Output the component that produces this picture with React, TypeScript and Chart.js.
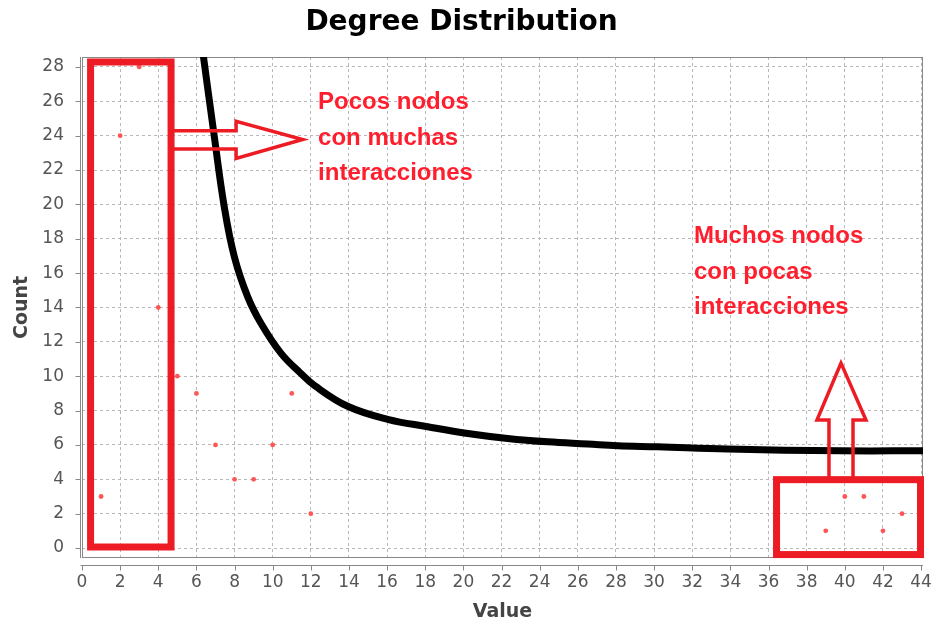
import React, { useEffect, useRef } from "react";
import { Chart, registerables } from "chart.js";

Chart.register(...registerables);

// ---- data ----
const degreeValues = [1, 2, 3, 4, 5, 6, 7, 8, 9, 10, 11, 12, 39, 40, 41, 42, 43];
const degreeCounts = [3, 24, 28, 14, 10, 9, 6, 4, 4, 6, 9, 2, 1, 3, 3, 1, 2];

const fitX = [6.32, 6.94, 7.46, 7.99, 8.69, 9.39, 10.44, 11.48, 12.2, 13.93, 16.03, 18.13, 20.23, 22.32, 24.42, 26.52, 28.09, 30.19, 33.86, 39.8, 44.1];
const fitY = [29.0, 23.93, 19.86, 16.95, 14.62, 13.07, 11.33, 10.16, 9.45, 8.25, 7.49, 7.06, 6.67, 6.38, 6.18, 6.05, 5.95, 5.89, 5.76, 5.66, 5.66];

const xTicks = [0, 2, 4, 6, 8, 10, 12, 14, 16, 18, 20, 22, 24, 26, 28, 30, 32, 34, 36, 38, 40, 42, 44];
const yTicks = [0, 2, 4, 6, 8, 10, 12, 14, 16, 18, 20, 22, 24, 26, 28];

const chartTitle = "Degree Distribution";
const xTitle = "Value";
const yTitle = "Count";

// annotations (data units)
const highlightBoxes = [
  { x0: 0.45, x1: 4.67, y0: 0.06, y1: 28.29 },
  { x0: 36.42, x1: 43.97, y0: -0.38, y1: 3.98 },
];
const arrowRight = [[4.67, 24.29], [8.08, 24.29], [8.08, 24.84], [11.57, 23.78], [8.08, 22.67], [8.08, 23.23], [4.67, 23.23]];
const arrowUp = [[39.17, 3.98], [39.17, 7.45], [38.54, 7.45], [39.8, 10.76], [41.11, 7.45], [40.43, 7.45], [40.43, 3.98]];
const noteLines1 = ["Pocos nodos", "con muchas", "interacciones"];
const noteX1 = 12.38;
const noteY1 = [25.58, 23.47, 21.41];
const noteLines2 = ["Muchos nodos", "con pocas", "interacciones"];
const noteX2 = 32.09;
const noteY2 = [17.73, 15.68, 13.61];

const RED = "#ed1c24";
const TEXT_RED = "#ff1e2d";

const framePlugin = {
  id: "frame",
  beforeDatasetsDraw(chart: any) {
    const { ctx, chartArea: a, scales } = chart;
    ctx.save();
    ctx.strokeStyle = "#888888";
    ctx.lineWidth = 1;
    ctx.setLineDash([]);
    ctx.strokeRect(Math.round(a.left) + 0.5, Math.round(a.top) + 0.5, Math.round(a.right - a.left) - 1, Math.round(a.bottom - a.top) - 1);
    // y axis line (offset)
    const ax = Math.round(a.left) - 2 + 0.5;
    ctx.beginPath();
    ctx.moveTo(ax, a.top);
    ctx.lineTo(ax, a.bottom);
    yTicks.forEach((v) => {
      const p = Math.round(scales.y.getPixelForValue(v)) + 0.5;
      ctx.moveTo(ax, p);
      ctx.lineTo(ax - 5, p);
    });
    // x axis line (offset)
    const ay = Math.round(a.bottom) + 7 + 0.5;
    ctx.moveTo(ax, ay);
    ctx.lineTo(a.right, ay);
    xTicks.forEach((v) => {
      const p = Math.round(scales.x.getPixelForValue(v)) + 0.5;
      ctx.moveTo(p, ay);
      ctx.lineTo(p, ay + 5);
    });
    ctx.stroke();
    ctx.restore();
  },
  afterDatasetsDraw(chart: any) {
    const { ctx, scales } = chart;
    const px = (v: number) => scales.x.getPixelForValue(v);
    const py = (v: number) => scales.y.getPixelForValue(v);
    ctx.save();
    ctx.setLineDash([]);
    ctx.strokeStyle = RED;
    ctx.lineJoin = "miter";
    ctx.lineWidth = 7;
    highlightBoxes.forEach((b) => {
      ctx.strokeRect(px(b.x0), py(b.y1), px(b.x1) - px(b.x0), py(b.y0) - py(b.y1));
    });
    ctx.lineWidth = 3.5;
    [arrowRight, arrowUp].forEach((pts) => {
      ctx.beginPath();
      pts.forEach(([x, y], i) => {
        if (i === 0) ctx.moveTo(px(x), py(y));
        else ctx.lineTo(px(x), py(y));
      });
      ctx.stroke();
    });
    ctx.fillStyle = TEXT_RED;
    ctx.font = "bold 24px 'Liberation Sans', Arial, sans-serif";
    ctx.textAlign = "left";
    ctx.textBaseline = "alphabetic";
    noteLines1.forEach((t, i) => ctx.fillText(t, px(noteX1), py(noteY1[i])));
    noteLines2.forEach((t, i) => ctx.fillText(t, px(noteX2), py(noteY2[i])));
    ctx.restore();
  },
};

export default function App() {
  const ref = useRef<HTMLCanvasElement | null>(null);
  useEffect(() => {
    if (!ref.current) return;
    const chart = new Chart(ref.current, {
      type: "scatter",
      data: {
        datasets: [
          {
            label: "fit",
            type: "line",
            data: fitX.map((x, i) => ({ x, y: fitY[i] })),
            borderColor: "#000000",
            borderWidth: 7,
            pointRadius: 0,
            fill: false,
            tension: 0.4,
            clip: 0,
            order: 2,
          } as any,
          {
            label: "degree",
            data: degreeValues.map((x, i) => ({ x, y: degreeCounts[i] })),
            backgroundColor: "#ff5555",
            borderWidth: 0,
            pointRadius: 2.4,
            order: 1,
          },
        ],
      },
      options: {
        responsive: false,
        animation: false,
        layout: { padding: { left: 0, right: 10, top: 0, bottom: 0 } },
        plugins: {
          legend: { display: false },
          tooltip: { enabled: false },
          title: {
            display: true,
            text: chartTitle,
            color: "#000000",
            font: { family: "'DejaVu Sans', sans-serif", size: 28, weight: "bold" },
            padding: { top: 6, bottom: 17.4 },
          },
        },
        scales: {
          x: {
            type: "linear",
            min: 0,
            max: 44.1,
            afterBuildTicks: (s: any) => {
              s.ticks = xTicks.map((v) => ({ value: v }));
            },
            afterFit: (s: any) => {
              s.height = 65;
              s.paddingLeft = 0;
              s.paddingRight = 0;
            },
            ticks: {
              color: "#555555",
              font: { family: "'DejaVu Sans', sans-serif", size: 17 },
              padding: 14,
              maxRotation: 0,
              autoSkip: false,
            },
            grid: {
              color: "#b8b8b8",
              drawTicks: false,
            },
            border: { display: false, dash: [3, 3] },
            title: {
              display: true,
              text: xTitle,
              color: "#444444",
              font: { family: "'DejaVu Sans', sans-serif", size: 19, weight: "bold" },
              padding: { top: 0, bottom: 0 },
            },
          },
          y: {
            type: "linear",
            min: -0.58,
            max: 28.58,
            afterBuildTicks: (s: any) => {
              s.ticks = yTicks.map((v) => ({ value: v }));
            },
            afterFit: (s: any) => {
              s.width = 82;
              s.paddingTop = 0;
              s.paddingBottom = 0;
            },
            ticks: {
              color: "#555555",
              font: { family: "'DejaVu Sans', sans-serif", size: 17 },
              padding: 18,
              autoSkip: false,
            },
            grid: {
              color: "#b8b8b8",
              drawTicks: false,
            },
            border: { display: false, dash: [3, 3] },
            title: {
              display: true,
              text: yTitle,
              color: "#444444",
              font: { family: "'DejaVu Sans', sans-serif", size: 19, weight: "bold" },
              padding: { top: 10.6, bottom: 0 },
            },
          },
        },
      },
      plugins: [framePlugin],
    });
    return () => chart.destroy();
  }, []);
  return (
    <div style={{ position: "fixed", left: 0, top: 0, width: 933, height: 623, background: "#ffffff" }}>
      <canvas ref={ref} width={933} height={623} style={{ display: "block", width: 933, height: 623 }} />
    </div>
  );
}
